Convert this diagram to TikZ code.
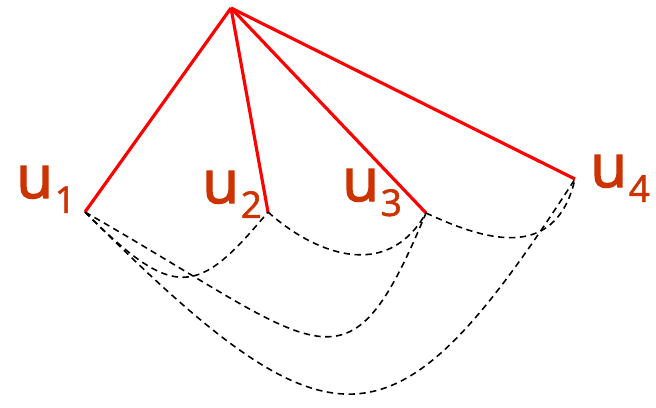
\documentclass[tikz,border=0pt]{standalone}
\usepackage{fontspec}
\setmainfont{Open Sans}
\newfontfamily\ufont[FakeBold=2.2]{Open Sans}
\newfontfamily\sfont[FakeBold=1.6]{Open Sans}
\definecolor{lab}{RGB}{204,51,0}
\begin{document}
\begin{tikzpicture}[x=0.02cm,y=-0.02cm,
  edge/.style={draw=red,line width=1.8pt},
  dsh/.style={draw=black,line width=0.9pt,dash pattern=on 3.6pt off 2.6pt},
  lbl/.style={text=lab,inner sep=0pt,anchor=base west,font=\ufont\fontsize{34}{34}\selectfont},
  pt/.style={inner sep=0pt,minimum size=0pt}]
\useasboundingbox (0,0) rectangle (656,407);
\node[pt] (t) at (231,8) {};
\node[pt] (u1) at (85,212) {};
\node[pt] (u2) at (268,212) {};
\node[pt] (u3) at (426,213) {};
\node[pt] (u4) at (575,179) {};
\newcommand{\sub}[1]{\kern1pt\raisebox{-8.5pt}{\sfont\fontsize{21}{21}\selectfont #1}}
\node[lbl] (l1) at (16,198) {u\sub{1}};
\node[lbl] (l2) at (202,203) {u\sub{2}};
\node[lbl] (l3) at (342,201) {u\sub{3}};
\node[lbl] (l4) at (590,187) {u\sub{4}};
\foreach \v in {u1,u2,u3,u4} \draw[edge] (t.center) -- (\v.center);
\draw[dsh] (u1.center) .. controls (175,302) and (198,296) .. (u2.center);
\draw[dsh] (u2.center) .. controls (310,250) and (385,285) .. (u3.center);
\draw[dsh] (u3.center) .. controls (480,238) and (555,265) .. (u4.center);
\draw[dsh] (u1.center) .. controls (325,349) and (346,405) .. (u3.center);
\draw[dsh] (u1.center) .. controls (335,462) and (395,458) .. (u4.center);
\end{tikzpicture}
\end{document}
